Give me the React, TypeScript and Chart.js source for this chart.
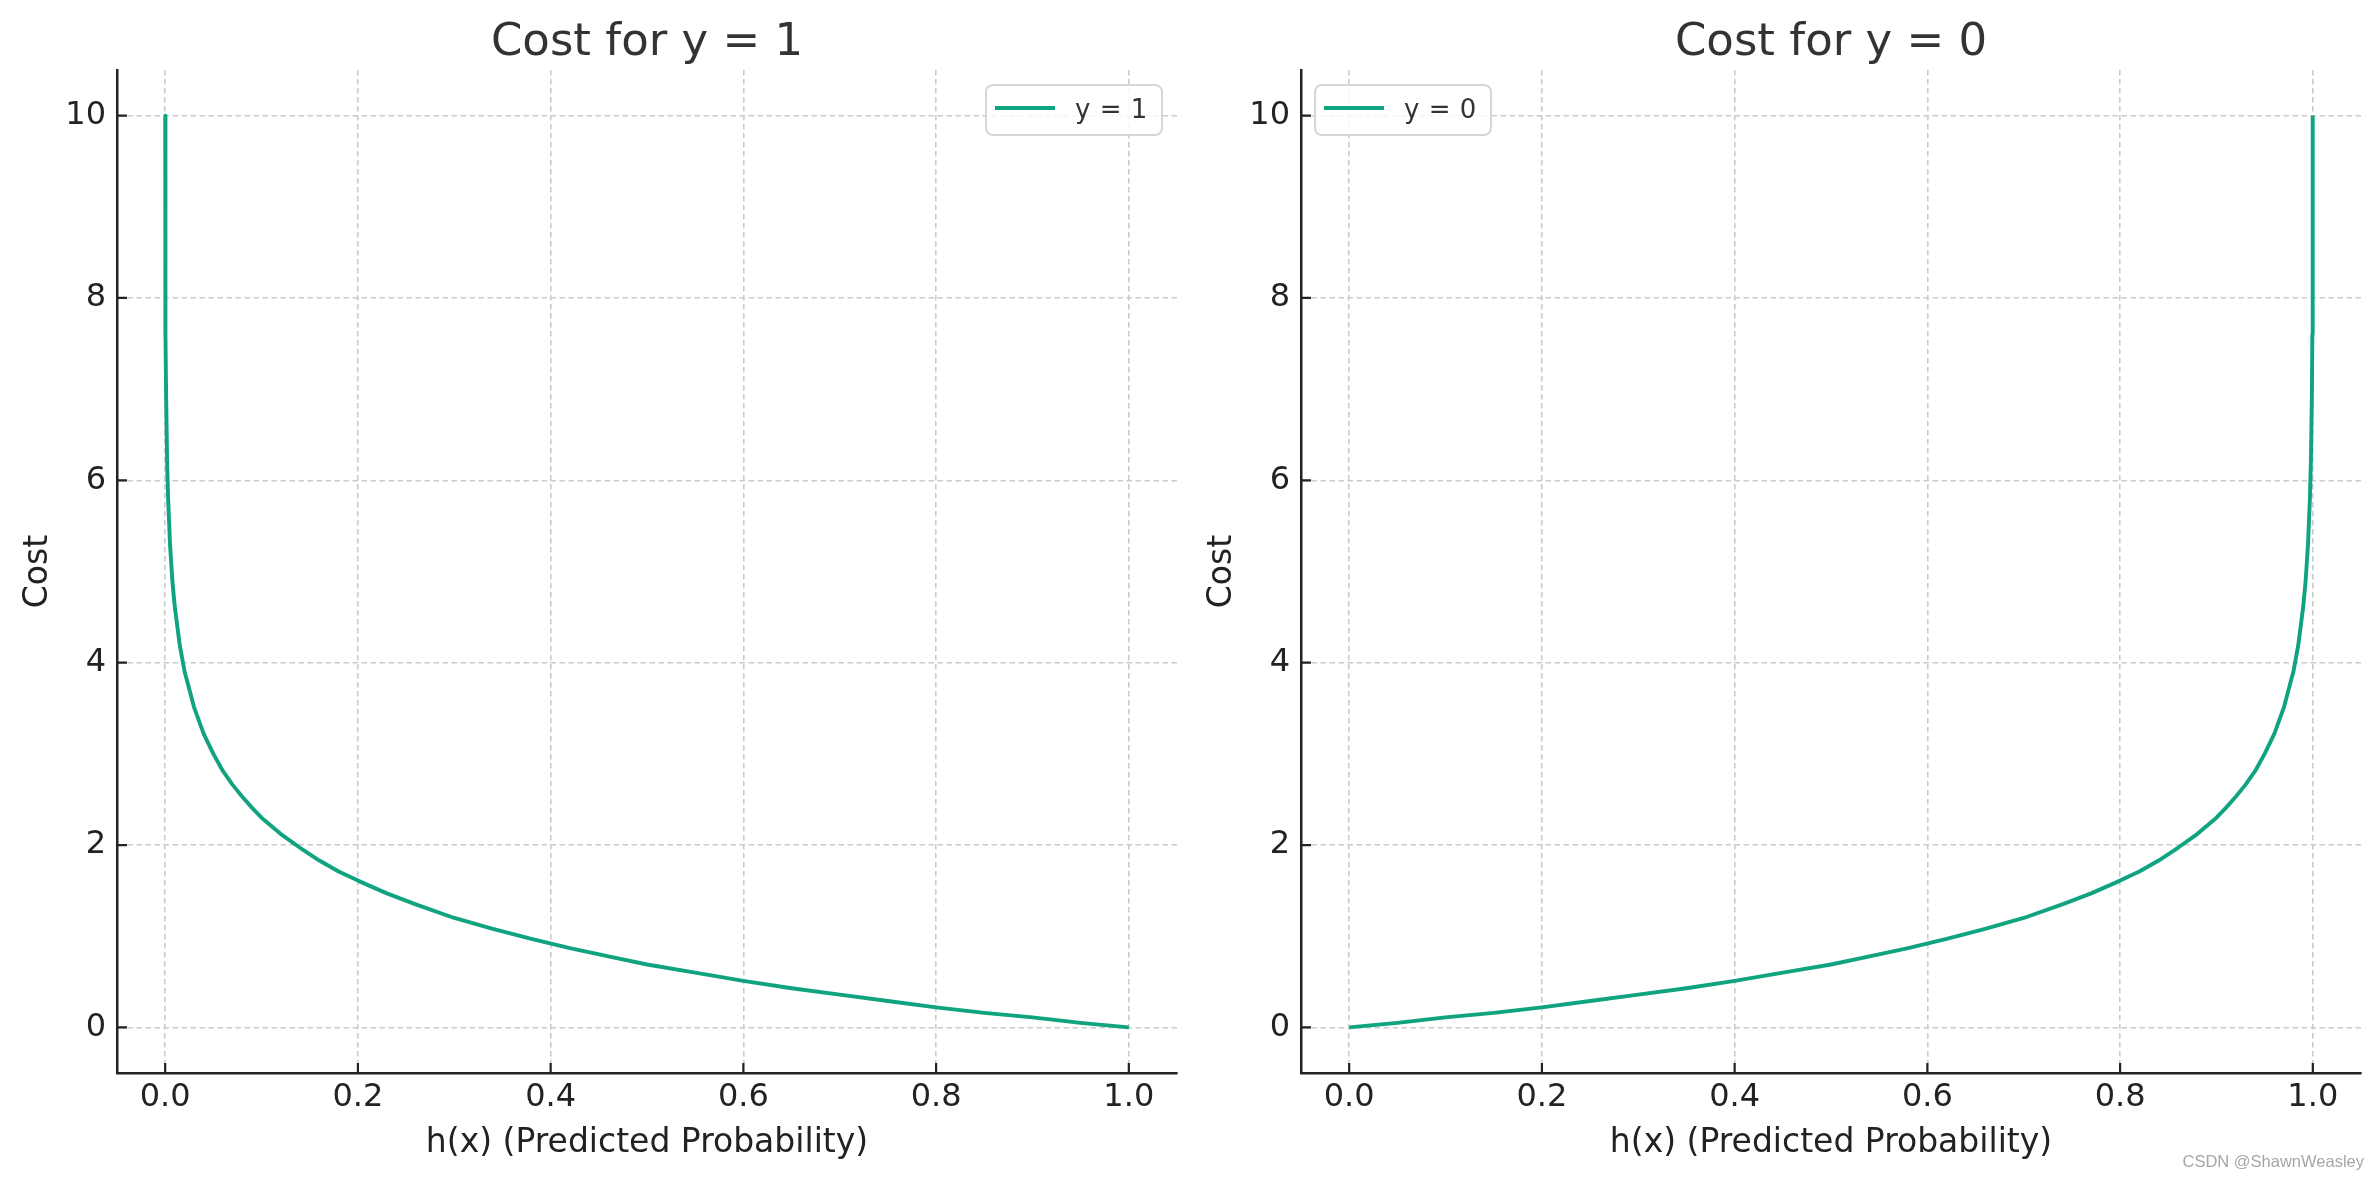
import React, { useEffect, useRef } from "react";
import { Chart, registerables } from "chart.js";

Chart.register(...registerables);

// ---------- data ----------
const H_Y1: number[] = [
  0.0000454, 0.0001, 0.0002, 0.0005, 0.001, 0.002, 0.003, 0.005, 0.0075, 0.01,
  0.015, 0.02, 0.03, 0.04, 0.05, 0.06, 0.07, 0.08, 0.09, 0.1,
  0.12, 0.14, 0.16, 0.18, 0.2, 0.23, 0.26, 0.3, 0.34, 0.38,
  0.42, 0.46, 0.5, 0.55, 0.6, 0.65, 0.7, 0.75, 0.8, 0.85,
  0.9, 0.95, 1.0,
];
const COST_Y1: number[] = [
  10.0, 9.21, 8.52, 7.6, 6.91, 6.21, 5.81, 5.3, 4.89, 4.61,
  4.2, 3.91, 3.51, 3.22, 3.0, 2.81, 2.66, 2.53, 2.41, 2.3,
  2.12, 1.97, 1.83, 1.71, 1.61, 1.47, 1.35, 1.2, 1.08, 0.97,
  0.87, 0.78, 0.69, 0.6, 0.51, 0.43, 0.36, 0.29, 0.22, 0.16,
  0.11, 0.05, 0.0,
];
const H_Y0: number[] = [
  0.0, 0.05, 0.1, 0.15, 0.2, 0.25, 0.3, 0.35, 0.4, 0.45,
  0.5, 0.54, 0.58, 0.62, 0.66, 0.7, 0.74, 0.77, 0.8, 0.82,
  0.84, 0.86, 0.88, 0.9, 0.91, 0.92, 0.93, 0.94, 0.95, 0.96,
  0.97, 0.98, 0.985, 0.99, 0.9925, 0.995, 0.997, 0.998, 0.999, 0.9995,
  0.9998, 0.9999, 0.9999546,
];
const COST_Y0: number[] = [
  0.0, 0.05, 0.11, 0.16, 0.22, 0.29, 0.36, 0.43, 0.51, 0.6,
  0.69, 0.78, 0.87, 0.97, 1.08, 1.2, 1.35, 1.47, 1.61, 1.71,
  1.83, 1.97, 2.12, 2.3, 2.41, 2.53, 2.66, 2.81, 3.0, 3.22,
  3.51, 3.91, 4.2, 4.61, 4.89, 5.3, 5.81, 6.21, 6.91, 7.6,
  8.52, 9.21, 10.0,
];
const X_TICKS: number[] = [0, 0.2, 0.4, 0.6, 0.8, 1.0];
const Y_TICKS: number[] = [0, 2, 4, 6, 8, 10];
const TITLES: string[] = ["Cost for y = 1", "Cost for y = 0"];
const LEGEND_LABELS: string[] = ["y = 1", "y = 0"];
const X_LABEL = "h(x) (Predicted Probability)";
const Y_LABEL = "Cost";
const WATERMARK = "CSDN @ShawnWeasley";

// ---------- styles ----------
const FONT = '"DejaVu Sans", "Noto Sans", sans-serif';
const GREEN = "#10a37f";
const GRID = "#cbcbcb";
const AXIS = "#222222";
const TEXT = "#222222";
const TITLE_C = "#333333";

function makeDecor(title: string, legendLabel: string, legendSide: "left" | "right") {
  return {
    id: "decor",
    afterDraw(chart: any) {
      const ctx: CanvasRenderingContext2D = chart.ctx;
      const area = chart.chartArea;
      const xs = chart.scales.x;
      const ys = chart.scales.y;
      ctx.save();
      // inward tick marks
      ctx.strokeStyle = AXIS;
      ctx.lineWidth = 2.2;
      ctx.beginPath();
      for (const t of xs.ticks) {
        const px = xs.getPixelForValue(t.value);
        ctx.moveTo(px, area.bottom);
        ctx.lineTo(px, area.bottom - 10);
      }
      for (const t of ys.ticks) {
        const py = ys.getPixelForValue(t.value);
        ctx.moveTo(area.left, py);
        ctx.lineTo(area.left + 10, py);
      }
      ctx.stroke();

      // title
      ctx.fillStyle = TITLE_C;
      ctx.font = `45px ${FONT}`;
      ctx.textAlign = "center";
      ctx.textBaseline = "alphabetic";
      ctx.fillText(title, (area.left + area.right) / 2, area.top - 15);

      // legend
      const w = 176;
      const h = 50;
      const bx = legendSide === "right" ? area.right - 15 - w : area.left + 14;
      const by = area.top + 15;
      const r = 7;
      ctx.beginPath();
      ctx.moveTo(bx + r, by);
      ctx.lineTo(bx + w - r, by);
      ctx.arcTo(bx + w, by, bx + w, by + r, r);
      ctx.lineTo(bx + w, by + h - r);
      ctx.arcTo(bx + w, by + h, bx + w - r, by + h, r);
      ctx.lineTo(bx + r, by + h);
      ctx.arcTo(bx, by + h, bx, by + h - r, r);
      ctx.lineTo(bx, by + r);
      ctx.arcTo(bx, by, bx + r, by, r);
      ctx.closePath();
      ctx.fillStyle = "rgba(255,255,255,0.82)";
      ctx.fill();
      ctx.strokeStyle = "#d6d6d6";
      ctx.lineWidth = 2;
      ctx.stroke();
      ctx.strokeStyle = GREEN;
      ctx.lineWidth = 3.8;
      ctx.beginPath();
      ctx.moveTo(bx + 9, by + 23);
      ctx.lineTo(bx + 69, by + 23);
      ctx.stroke();
      ctx.fillStyle = TITLE_C;
      ctx.font = `26px ${FONT}`;
      (ctx as any).wordSpacing = "1px";
      ctx.textAlign = "left";
      ctx.fillText(legendLabel, bx + 89, by + 33);
      ctx.restore();
    },
  };
}

function makeConfig(xs: number[], ys: number[], idx: number, side: "left" | "right"): any {
  const points = xs.map((x, i) => ({ x, y: ys[i] }));
  return {
    type: "line",
    data: {
      datasets: [
        {
          label: LEGEND_LABELS[idx],
          data: points,
          borderColor: GREEN,
          backgroundColor: GREEN,
          borderWidth: 3.9,
          pointRadius: 0,
          tension: 0,
          fill: false,
          borderJoinStyle: "round",
        },
      ],
    },
    options: {
      animation: false,
      responsive: false,
      events: [],
      layout: { padding: { top: 70, left: 0, right: 13, bottom: 0 } },
      plugins: {
        legend: { display: false },
        title: { display: false },
        tooltip: { enabled: false },
      },
      scales: {
        x: {
          type: "linear",
          min: -0.05,
          max: 1.05,
          afterBuildTicks: (s: any) => {
            s.ticks = X_TICKS.map((v) => ({ value: v }));
          },
          afterFit: (s: any) => {
            s.height = 107;
          },
          grid: { color: GRID, lineWidth: 1.6, drawTicks: false },
          border: { display: true, color: AXIS, width: 2.5, dash: [5.5, 3.5] },
          ticks: {
            padding: 5,
            color: TEXT,
            font: { family: FONT, size: 32 },
            maxRotation: 0,
            autoSkip: false,
            callback: (v: any) => Number(v).toFixed(1),
          },
          title: {
            display: true,
            text: X_LABEL,
            color: TEXT,
            font: { family: FONT, size: 33 },
            padding: { top: 0, bottom: 17 },
          },
        },
        y: {
          type: "linear",
          min: -0.5,
          max: 10.5,
          afterBuildTicks: (s: any) => {
            s.ticks = Y_TICKS.map((v) => ({ value: v }));
          },
          afterFit: (s: any) => {
            s.width = 117;
          },
          grid: { color: GRID, lineWidth: 1.6, drawTicks: false },
          border: { display: true, color: AXIS, width: 2.5, dash: [5.5, 3.5] },
          ticks: {
            padding: 11,
            color: TEXT,
            font: { family: FONT, size: 32 },
            autoSkip: false,
            callback: (v: any) => String(Math.round(Number(v))),
          },
          title: {
            display: true,
            text: Y_LABEL,
            color: TEXT,
            font: { family: FONT, size: 33 },
            padding: { top: 19, bottom: 0 },
          },
        },
      },
    },
    plugins: [makeDecor(TITLES[idx], LEGEND_LABELS[idx], side)],
  };
}

export default function App() {
  const c1 = useRef<HTMLCanvasElement | null>(null);
  const c2 = useRef<HTMLCanvasElement | null>(null);

  useEffect(() => {
    const a = new Chart(c1.current as HTMLCanvasElement, makeConfig(H_Y1, COST_Y1, 0, "right"));
    const b = new Chart(c2.current as HTMLCanvasElement, makeConfig(H_Y0, COST_Y0, 1, "left"));
    return () => {
      a.destroy();
      b.destroy();
    };
  }, []);

  return (
    <div
      style={{
        position: "fixed",
        left: 0,
        top: 0,
        width: 2379,
        height: 1180,
        background: "#ffffff",
        overflow: "hidden",
      }}
    >
      <canvas
        ref={c1}
        width={1190}
        height={1180}
        style={{ position: "absolute", left: 0, top: 0, width: 1190, height: 1180 }}
      />
      <canvas
        ref={c2}
        width={1190}
        height={1180}
        style={{ position: "absolute", left: 1184, top: 0, width: 1190, height: 1180 }}
      />
      <div
        style={{
          position: "absolute",
          right: 2379 - 2364,
          top: 1153,
          fontFamily: '"Liberation Sans", Arial, sans-serif',
          fontSize: 16.5,
          lineHeight: "16.5px",
          color: "#a6a6a6",
          whiteSpace: "nowrap",
        }}
      >
        {WATERMARK}
      </div>
    </div>
  );
}
